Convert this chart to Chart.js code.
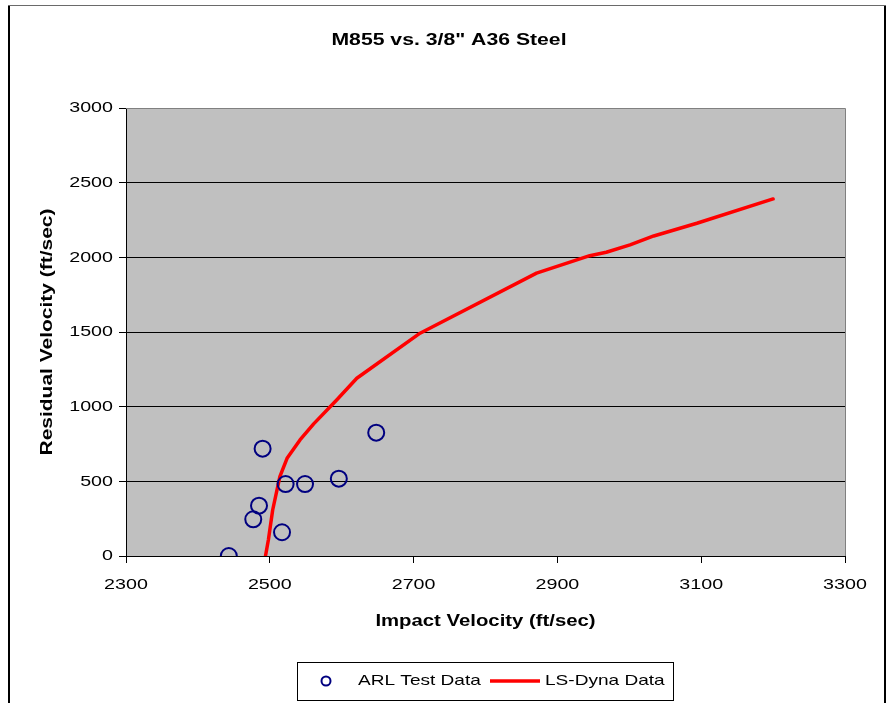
<!DOCTYPE html>
<html>
<head>
<meta charset="utf-8">
<script src="https://cdn.jsdelivr.net/npm/chart.js@4/dist/chart.umd.min.js"></script>
<style>
  html, body { margin: 0; padding: 0; background: #fff; }
  canvas { display: block; }
</style>
</head>
<body>
<canvas id="c" width="887" height="703"></canvas>
<script>
// ---- chart text ----
const chartTitle = 'M855 vs. 3/8" A36 Steel';
const xAxisTitle = 'Impact Velocity (ft/sec)';
const yAxisTitle = 'Residual Velocity (ft/sec)';
const seriesNames = ['ARL Test Data', 'LS-Dyna Data'];

// ---- tick labels ----
const xTickValues = [2300, 2500, 2700, 2900, 3100, 3300];
const yTickValues = [0, 500, 1000, 1500, 2000, 2500, 3000];

// ---- ARL test shots (impact / residual velocity, ft/sec) ----
const arlImpact   = [2443, 2477, 2485, 2490, 2517, 2522, 2549, 2596, 2648];
const arlResidual = [   0,  246,  337,  719,  159,  482,  482,  518,  826];

// ---- LS-Dyna simulation curve (impact / residual velocity, ft/sec) ----
const dynaImpact   = [2494, 2498, 2504, 2514, 2524, 2542, 2561, 2593, 2621, 2709, 2871, 2945, 2968, 3001, 3034, 3094, 3200];
const dynaResidual = [   0,  107,  308,  531,  654,  777,  885, 1045, 1190, 1492, 1894, 2011, 2034, 2083, 2143, 2228, 2391];

const FONT = '"Liberation Sans", Arial, sans-serif';
const TEXT_WIDEN = 1.27;   // labels are set in a horizontally widened face

const canvas = document.getElementById('c');
const ctx = canvas.getContext('2d');

// Widen every piece of text horizontally around its anchor point.
(function widenText(c) {
  const proto = CanvasRenderingContext2D.prototype;
  c.fillText = function (text, x, y, maxWidth) {
    c.save();
    c.translate(x, y);
    c.scale(TEXT_WIDEN, 1);
    if (maxWidth !== undefined) proto.fillText.call(c, text, 0, 0, maxWidth / TEXT_WIDEN);
    else proto.fillText.call(c, text, 0, 0);
    c.restore();
  };
  c.measureText = function (text) {
    const m = proto.measureText.call(c, text);
    return {
      width: m.width * TEXT_WIDEN,
      actualBoundingBoxLeft: m.actualBoundingBoxLeft * TEXT_WIDEN,
      actualBoundingBoxRight: m.actualBoundingBoxRight * TEXT_WIDEN,
      actualBoundingBoxAscent: m.actualBoundingBoxAscent,
      actualBoundingBoxDescent: m.actualBoundingBoxDescent,
      fontBoundingBoxAscent: m.fontBoundingBoxAscent,
      fontBoundingBoxDescent: m.fontBoundingBoxDescent
    };
  };
})(ctx);

const arlPoints = arlImpact.map((x, i) => ({ x, y: arlResidual[i] }));
const dynaPoints = dynaImpact.map((x, i) => ({ x, y: dynaResidual[i] }));

// Page frame, plot fill, title and boxed legend.
const decorations = {
  id: 'decorations',
  beforeDraw(chart) {
    const c = chart.ctx, a = chart.chartArea;
    c.save();
    c.fillStyle = '#ffffff';
    c.fillRect(0, 0, chart.width, chart.height);
    c.fillStyle = '#C0C0C0';
    c.fillRect(a.left, a.top, a.right - a.left, a.bottom - a.top);
    c.restore();
  },
  afterDraw(chart) {
    const c = chart.ctx, a = chart.chartArea;
    c.save();
    // plot border (top / right)
    c.strokeStyle = '#808080';
    c.lineWidth = 1;
    c.beginPath();
    c.moveTo(a.left, a.top + 0.5);
    c.lineTo(a.right + 0.5, a.top + 0.5);
    c.lineTo(a.right + 0.5, a.bottom);
    c.stroke();

    // outer frame
    c.strokeStyle = '#6a6a6a';
    c.beginPath();
    c.moveTo(8, 5.5);
    c.lineTo(886, 5.5);
    c.stroke();
    c.strokeStyle = '#000';
    c.lineWidth = 2;
    c.beginPath();
    c.moveTo(9, 6);
    c.lineTo(9, chart.height);
    c.moveTo(885, 6);
    c.lineTo(885, chart.height);
    c.stroke();

    // title
    c.fillStyle = '#000';
    c.font = 'bold 16.7px ' + FONT;
    c.textAlign = 'center';
    c.textBaseline = 'middle';
    c.fillText(chartTitle, 449, 40);

    // legend box
    const ds = chart.data.datasets;
    const L = 297, T = 662, R = 673, B = 700, cy = 681;
    c.strokeStyle = '#000';
    c.lineWidth = 1;
    c.strokeRect(L + 0.5, T + 0.5, R - L, B - T);
    c.beginPath();
    c.arc(326, cy, 4.5, 0, Math.PI * 2);
    c.strokeStyle = ds[0].borderColor;
    c.lineWidth = 2;
    c.stroke();
    c.beginPath();
    c.moveTo(490, cy);
    c.lineTo(540, cy);
    c.strokeStyle = ds[1].borderColor;
    c.lineWidth = 3.5;
    c.stroke();
    c.fillStyle = '#000';
    c.font = '15px ' + FONT;
    c.textAlign = 'left';
    c.textBaseline = 'middle';
    c.fillText(ds[0].label, 358, cy);
    c.fillText(ds[1].label, 545, cy);
    c.restore();
  }
};

new Chart(ctx, {
  type: 'scatter',
  data: {
    datasets: [
      {
        label: seriesNames[0],
        data: arlPoints,
        pointStyle: 'circle',
        pointRadius: 8,
        pointHoverRadius: 8,
        borderColor: '#000080',
        backgroundColor: 'rgba(0,0,0,0)',
        pointBorderWidth: 2,
        showLine: false,
        order: 0
      },
      {
        label: seriesNames[1],
        data: dynaPoints,
        showLine: true,
        borderColor: '#FF0000',
        backgroundColor: '#FF0000',
        borderWidth: 3.5,
        pointRadius: 0,
        tension: 0,
        borderCapStyle: 'round',
        borderJoinStyle: 'round',
        order: 1
      }
    ]
  },
  options: {
    responsive: false,
    animation: false,
    devicePixelRatio: 1,
    layout: { padding: { left: 0, right: 42, top: 108, bottom: 67 } },
    plugins: {
      legend: { display: false },
      title: { display: false },
      tooltip: { enabled: false }
    },
    scales: {
      x: {
        type: 'linear',
        min: xTickValues[0],
        max: xTickValues[xTickValues.length - 1],
        afterBuildTicks: s => { s.ticks = xTickValues.map(v => ({ value: v })); },
        afterFit: s => { s.height = 80; },
        grid: { drawOnChartArea: false, drawTicks: true, tickLength: 7, tickColor: '#000', tickWidth: 1 },
        border: { display: true, color: '#000', width: 1 },
        ticks: {
          color: '#000',
          padding: 12,
          maxRotation: 0,
          font: { family: FONT, size: 15.5 },
          callback: v => String(v)
        },
        title: {
          display: true,
          text: xAxisTitle,
          color: '#000',
          font: { family: FONT, size: 16, weight: 'bold' },
          padding: { top: 0, bottom: 4.4 }
        }
      },
      y: {
        type: 'linear',
        min: yTickValues[0],
        max: yTickValues[yTickValues.length - 1],
        afterBuildTicks: s => { s.ticks = yTickValues.map(v => ({ value: v })); },
        afterFit: s => { s.width = 126; },
        grid: {
          drawOnChartArea: true,
          drawTicks: true,
          tickLength: 7,
          tickColor: '#000',
          lineWidth: 1,
          color: c => (c.tick && c.tick.value === yTickValues[yTickValues.length - 1]) ? '#808080' : '#000'
        },
        border: { display: true, color: '#000', width: 1 },
        ticks: {
          color: '#000',
          padding: 6,
          font: { family: FONT, size: 15.5 },
          callback: v => String(v)
        },
        title: {
          display: true,
          text: yAxisTitle,
          color: '#000',
          font: { family: FONT, size: 16.5, weight: 'bold' },
          padding: { top: 38, bottom: 0 }
        }
      }
    }
  },
  plugins: [decorations]
});
</script>
</body>
</html>
